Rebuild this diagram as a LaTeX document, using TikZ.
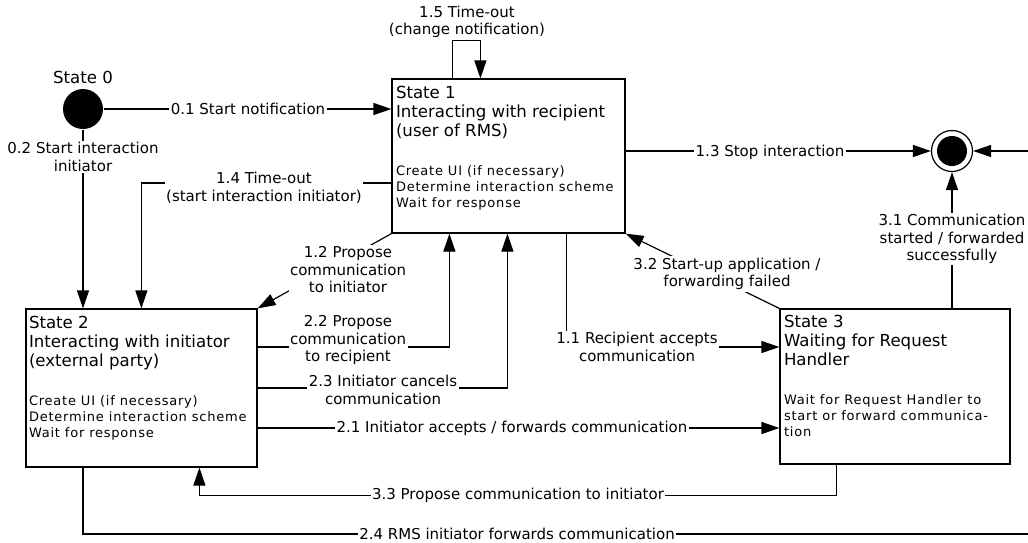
\documentclass[tikz,border=0pt]{standalone}
\usepackage{fontspec}
\setmainfont{DejaVu Sans}
\newfontfamily\spacedfont{DejaVu Sans}[LetterSpace=6]
\usetikzlibrary{arrows.meta}
% font sizes: state titles, state activities, transition labels
\newcommand\titlesize{\fontsize{16.6}{19}\selectfont}
\newcommand\notesize{\spacedfont\fontsize{13}{16}\selectfont}
\newcommand\labelsize{\fontsize{15}{17.5}\selectfont}
% state text: title lines, a blank gap, then the activity lines
\newcommand\statetext[2]{\begin{minipage}[t]{224pt}\raggedright\titlesize #1\par\vspace{23pt}\notesize #2\end{minipage}}

\begin{document}
\begin{tikzpicture}[x=1pt,y=-1pt,line width=1.2pt,
  arr/.style={-{Triangle[length=18pt,width=12pt]}},
  statebox/.style={draw,rectangle,inner sep=0pt,fill=white},
  boxtext/.style={anchor=base west,inner sep=0pt},
  lbl/.style={fill=white,inner sep=1.5pt,align=center,font=\labelsize},
  plainlbl/.style={inner sep=0pt,align=center,font=\labelsize}]
\useasboundingbox (0,0) rectangle (1028,542);
\clip (0,0) rectangle (1028,542);
\fill[white] (0,0) rectangle (1028,542);

% states
\node[circle,fill=black,minimum size=40pt,inner sep=0pt] (s0) at (83,109) {};
\node[anchor=base,font=\titlesize,inner sep=0pt] (s0t) at (83,83) {State 0};
\node[statebox,minimum width=233pt,minimum height=154pt] (s1) at (508.5,156) {};
\node[statebox,minimum width=231pt,minimum height=158pt] (s2) at (141.5,388) {};
\node[statebox,minimum width=230pt,minimum height=155pt] (s3) at (895,386.5) {};
\node[circle,draw,minimum size=41pt,inner sep=0pt,
  path picture={\fill[black] (path picture bounding box.center) circle (15pt);}] (fin) at (952,151) {};

\node[boxtext] (s1t) at ([xshift=4pt,yshift=-19.7pt]s1.north west)
  {\statetext{State 1\\Interacting with recipient\\(user of RMS)}{Create UI (if necessary)\\Determine interaction scheme\\Wait for response}};
\node[boxtext] (s2t) at ([xshift=3pt,yshift=-20pt]s2.north west)
  {\statetext{State 2\\Interacting with initiator\\(external party)}{Create UI (if necessary)\\Determine interaction scheme\\Wait for response}};
\node[boxtext] (s3t) at ([xshift=4pt,yshift=-19.5pt]s3.north west)
  {\statetext{State 3\\Waiting for Request\\Handler}{Wait for Request Handler to\\start or forward communica-\\tion}};

% transitions
\draw[arr] (s0.east) -- (s0 -| s1.west);
\draw[arr] (s0.south) -- (s0 |- s2.north);
\draw[arr] (s1.west |- 0,183) -| ([xshift=116pt]s2.north west);
\draw[arr] ([xshift=61pt]s1.north west) -- ++(0,-38) -| ([xshift=89pt]s1.north west);
\draw[arr] (s1.east |- fin) -- (fin.west);
\draw[arr] (s1.south west) -- (s2.north east);
\draw[arr] (s2.east |- 0,347) -| ([xshift=58pt]s1.south west);
\draw[arr] (s2.east |- 0,388) -| ([xshift=116pt]s1.south west);
\draw[arr] ([xshift=175pt]s1.south west) |- (s3.west |- 0,347);
\draw[arr] (s2.east |- 0,428) -- (s3.west |- 0,428);
\draw[arr] (s3.north west) -- (s1.south east);
\draw[arr] (s3.north -| fin) -- (fin.south);
\draw[arr] ([xshift=57pt]s3.south west) -- ++(0,31) -| ([xshift=174pt]s2.south west);
\draw[arr] (s2.south -| s0) |- (1045,534) |- (fin.east);

% transition labels
\node[plainlbl] (l15) at (467,22) {1.5 Time-out\\(change notification)};
\node[lbl] (l01) at (248,109) {0.1 Start notification};
\node[lbl] (l02) at (83,157) {0.2 Start interaction\\initiator};
\node[lbl] (l14) at (264,188) {1.4 Time-out\\(start interaction initiator)};
\node[lbl] (l13) at (770,152) {1.3 Stop interaction};
\node[lbl] (l31) at (952,239) {3.1 Communication\\started / forwarded\\successfully};
\node[lbl] (l12) at (348,270) {1.2 Propose\\communication\\to initiator};
\node[lbl] (l32) at (727,274) {3.2 Start-up application /\\forwarding failed};
\node[lbl] (l22) at (348,340) {2.2 Propose\\communication\\to recipient};
\node[lbl] (l11) at (637,347) {1.1 Recipient accepts\\communication};
\node[lbl] (l23) at (383,390) {2.3 Initiator cancels\\communication};
\node[lbl] (l21) at (512,428) {2.1 Initiator accepts / forwards communication};
\node[lbl] (l33) at (518,495) {3.3 Propose communication to initiator};
\node[lbl] (l24) at (517,534) {2.4 RMS initiator forwards communication};
\end{tikzpicture}
\end{document}
